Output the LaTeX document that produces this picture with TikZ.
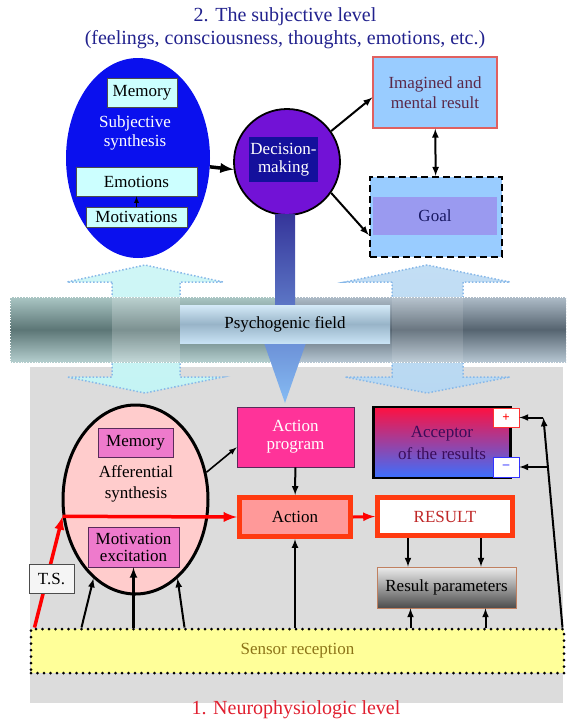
\documentclass[tikz,border=0pt]{standalone}
\usepackage{fontspec}
\setmainfont{Liberation Serif}
\usepackage{tikz}
\usetikzlibrary{arrows}
\usetikzlibrary{positioning, shapes.geometric}

\definecolor{navy}{HTML}{22228E}
\definecolor{cyanbox}{HTML}{CCFFFF}
\definecolor{subjblue}{HTML}{0A10EE}
\definecolor{decpurple}{HTML}{7212D6}
\definecolor{decnavy}{HTML}{14109C}
\definecolor{skyblue}{HTML}{99CCFF}
\definecolor{imagred}{HTML}{E06060}
\definecolor{imagtext}{HTML}{5A2848}
\definecolor{goalviolet}{HTML}{9A9AF0}
\definecolor{bggray}{HTML}{DCDCDC}
\definecolor{affpink}{HTML}{FFCCCC}
\definecolor{pinkbox}{HTML}{EE7ACC}
\definecolor{purpleline}{HTML}{5A2A5A}
\definecolor{hotpink}{HTML}{FF3399}
\definecolor{redline}{HTML}{FF3A10}
\definecolor{salmon}{HTML}{FF9999}
\definecolor{accred}{HTML}{FF1040}
\definecolor{accblue}{HTML}{3A70FF}
\definecolor{acctext}{HTML}{3A0C5A}
\definecolor{resulttext}{HTML}{C02828}
\definecolor{sensoryellow}{HTML}{FFFF99}
\definecolor{sensortext}{HTML}{8C7418}
\definecolor{neurored}{HTML}{E02030}
\definecolor{barblue}{HTML}{35359A}
\definecolor{barlight}{HTML}{86BCF4}
\definecolor{dotblue}{HTML}{88B8E8}
\definecolor{crosscyan}{HTML}{C4F4F4}
\definecolor{crossblue}{HTML}{B8D8F2}
\definecolor{bandtop}{HTML}{AAC6C4}
\definecolor{bandmid}{HTML}{5C7676}
\definecolor{bandbot}{HTML}{B4CECE}
\definecolor{grbandtop}{HTML}{AEBCC8}
\definecolor{grbandmid}{HTML}{566470}
\definecolor{grbandbot}{HTML}{B6C6D2}
\definecolor{psytop}{HTML}{D4EAF8}
\definecolor{psymid}{HTML}{98B4C8}
\definecolor{psybot}{HTML}{C8E2F4}
\definecolor{parbrown}{HTML}{C08060}

\begin{document}
\begin{tikzpicture}[x=1pt, y=-1pt, font=\fontsize{17}{19}\selectfont, >=latex']
		\tikzstyle{connect}=[-latex, line width=2pt]
		\tikzstyle{lbox}=[rectangle, draw=black!70, fill=cyanbox, thick, inner sep=0pt]
		\tikzstyle{pbox}=[rectangle, draw=purpleline, fill=pinkbox, thick, inner sep=0pt]
		\tikzstyle{redbox}=[rectangle, draw=redline, line width=5pt, inner sep=0pt]
		\tikzstyle{redconnect}=[-latex, line width=3.5pt, draw=red]
		\tikzstyle{crossarrow}=[draw=dotblue, dotted, line width=1.5pt]
		\tikzstyle{title}=[font=\fontsize{20}{22}\selectfont]
		\useasboundingbox (0,0) rectangle (566,721);
		%% 2. subjective level
		\node[title, text=navy] (toptitle) at (285,17) {2. The subjective level};
		\node[title, text=navy] (subtitle) at (285,40) {(feelings, consciousness, thoughts, emotions, etc.)};
		\node[ellipse, fill=subjblue, minimum width=144pt, minimum height=200pt] (subj) at (138,158) {};
		\node[lbox, minimum width=70pt, minimum height=29pt] (smem) at (142,92.5) {Memory};
		\node[text=white, align=center] (subjtxt) at (135,133) {Subjective\\synthesis};
		\node[lbox, minimum width=121pt, minimum height=29pt] (emo) at (136.5,181.5) {Emotions};
		\node[lbox, minimum width=101pt, minimum height=20pt] (motiv) at (136.5,217) {Motivations};
		\node[circle, draw=black, line width=1.8pt, fill=decpurple, minimum size=106pt] (dec) at (287,162) {};
		\node[rectangle, fill=decnavy, text=white, align=center, minimum width=69pt, minimum height=45pt, inner sep=0pt, font=\fontsize{17}{18}\selectfont] (dectxt) at (283.5,159.5) {Decision-\\making};
		\node[rectangle, draw=imagred, line width=1.5pt, fill=skyblue, text=imagtext, align=center, minimum width=124pt, minimum height=71pt, font=\fontsize{17}{20}\selectfont] (imag) at (435,92.5) {Imagined and\\mental result};
		\node[rectangle, draw=black, line width=2.5pt, dash pattern=on 7pt off 4pt, fill=skyblue, minimum width=132pt, minimum height=80pt] (goal) at (436,217) {};
		\node[rectangle, fill=goalviolet, text=navy!70!black, minimum width=124pt, minimum height=38pt] (goaltxt) at (435,216) {Goal};
		\path
		(subj.-7) edge [connect, line width=3.5pt] (dec.188)
		(motiv) edge [-latex, line width=1.2pt] (emo)
		(dec.35) edge [connect] ([yshift=-5pt]imag.west)
		(dec.-35) edge [connect] ([yshift=-18pt]goal.west)
		(imag) edge [latex-latex, line width=2pt] (goal)
		;
		%% psychogenic field
		\fill[bggray] (30,367) rectangle (563,703);
		\draw[crossarrow, top color=crosscyan!80, bottom color=crosscyan] (112,282) -- (67,282) -- (145,265) -- (223,282) -- (180,282) -- (180,377) -- (223,377) -- (145,393) -- (67,377) -- (112,377) -- cycle;
		\draw[crossarrow, top color=crossblue!85, bottom color=crossblue] (392,282) -- (345,282) -- (427,265) -- (510,282) -- (463,282) -- (463,377) -- (510,377) -- (427,393) -- (345,377) -- (392,377) -- cycle;
		\shade[top color=bandtop, bottom color=bandbot, middle color=bandmid] (10,297) rectangle (285,362);
		\shade[top color=grbandtop, bottom color=grbandbot, middle color=grbandmid] (285,297) rectangle (566,362);
		\fill[white, opacity=.2] (112,297) rectangle (180,362);
		\fill[white, opacity=.12] (392,297) rectangle (463,362);
		\draw[white, dotted, thick] (10,297) rectangle (566,362);
		\shade[top color=barblue, bottom color=barlight] (275,214) -- (275,340) -- (263,340) -- (285,403) -- (307,340) -- (295,340) -- (295,214) -- cycle;
		\node[rectangle, top color=psytop, bottom color=psybot, middle color=psymid, minimum width=210pt, minimum height=38pt] (psych) at (285,324) {Psychogenic field};
		%% 1. neurophysiologic level
		\node[ellipse, draw=black, line width=3pt, fill=affpink, minimum width=145pt, minimum height=189pt] (aff) at (135.5,499.5) {};
		\node[pbox, minimum width=75pt, minimum height=29pt] (amem) at (135.5,442.5) {Memory};
		\node[align=center, font=\fontsize{17}{21}\selectfont] (afftxt) at (136,483.5) {Afferential\\synthesis};
		\node[pbox, align=center, minimum width=91pt, minimum height=40pt, font=\fontsize{17}{17}\selectfont] (motex) at (133.5,547) {Motivation\\excitation};
		\node[rectangle, draw=purpleline, thick, fill=hotpink, text=white, align=center, minimum width=117pt, minimum height=60pt, font=\fontsize{17}{18}\selectfont] (aprog) at (295.5,437) {Action\\program};
		\node[redbox, fill=salmon, minimum width=111pt, minimum height=39pt] (action) at (295,517) {Action};
		\node[redbox, fill=white, text=resulttext, minimum width=135pt, minimum height=38pt] (result) at (445,516.5) {RESULT};
		\node[rectangle, draw=black, line width=2.5pt, top color=accred, bottom color=accblue, text=acctext, align=center, minimum width=137pt, minimum height=71pt, font=\fontsize{17}{22}\selectfont] (acc) at (442,442.5) {Acceptor\\of the results};
		\node[rectangle, draw=red!80, thick, fill=white, text=red, minimum width=26pt, minimum height=19pt, inner sep=0pt, font=\fontsize{13}{14}\selectfont\bfseries] (plus) at (506,417.5) {+};
		\node[rectangle, draw=blue!80, thick, fill=white, text=blue!80, minimum width=26pt, minimum height=20pt, inner sep=0pt, font=\fontsize{13}{14}\selectfont\bfseries] (minus) at (506,467) {--};
		\node[rectangle, draw=parbrown, thick, top color=gray!15, bottom color=black!70, minimum width=139pt, minimum height=41pt] (rpar) at (446.5,587.5) {Result parameters};
		\node[rectangle, draw=black, line width=3pt, dash pattern=on 0pt off 6.5pt, line cap=round, fill=sensoryellow, text=sensortext, minimum width=533pt, minimum height=44pt] (sensor) at (297.5,651) {Sensor reception};
		\coordinate (redstart) at ([xshift=5pt]sensor.north west);
		\coordinate (fbtop) at ([xshift=24pt]plus.east);
		\coordinate (fbmid) at ([xshift=28pt]minus.east);
		\draw[redconnect] (redstart) -- (aff.193);
		\draw[redconnect] (aff.193) -- (action.west);
		\node[rectangle, draw=black!70, thick, fill=gray!8, minimum width=45pt, minimum height=29pt, inner sep=0pt] (ts) at (51.5,578.5) {T.S.};
		\path
		(aff.21) edge [connect, line width=1.6pt] (aprog.190)
		(aprog) edge [connect] (action)
		(action.east) edge [-latex, line width=3pt, draw=red] (result.west)
		([xshift=52pt]sensor.north west) edge [connect] (aff.242)
		(motex.south |- sensor.north) edge [connect, line width=2.5pt] (motex.south)
		([xshift=155pt]sensor.north west) edge [connect] (aff.298)
		(action.south |- sensor.north) edge [connect] (action.south)
		([xshift=-37pt]result.south) edge [connect] ([xshift=-37pt]result.south |- rpar.north)
		([xshift=36pt]result.south) edge [connect] ([xshift=36pt]result.south |- rpar.north)
		([xshift=-36pt]rpar.south |- sensor.north) edge [connect] ([xshift=-36pt]rpar.south)
		([xshift=39pt]rpar.south |- sensor.north) edge [connect] ([xshift=39pt]rpar.south)
		([xshift=-3pt]sensor.north east) edge [connect] (fbtop)
		(fbtop) edge [connect] (plus.east)
		(fbmid) edge [connect] (minus.east)
		;
		\node[title, text=neurored] (bottitle) at (296,710) {1. Neurophysiologic level};
	\end{tikzpicture}
\end{document}
